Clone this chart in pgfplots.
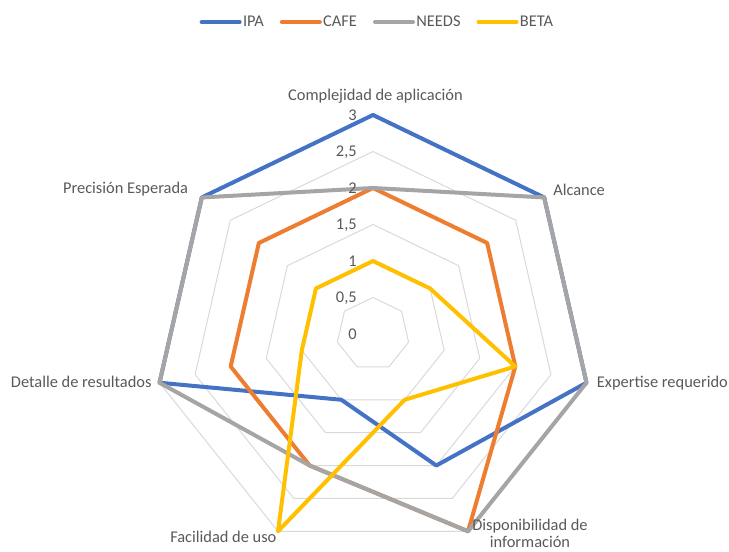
\documentclass[border=0pt]{standalone}
\usepackage{pgfplots}
\usepackage{pgfplotstable}
\pgfplotsset{compat=1.18}
\usepackage{fontspec}
\setmainfont{Carlito}
\definecolor{cIPA}{HTML}{4472C4}
\definecolor{cCAFE}{HTML}{ED7D31}
\definecolor{cNEEDS}{HTML}{A5A5A5}
\definecolor{cBETA}{HTML}{FFC000}
\definecolor{cgrid}{HTML}{D9D9D9}
\definecolor{ctxt}{HTML}{595959}
\tikzset{ticklab/.style={anchor=east, inner sep=0pt, text depth=0pt, text=ctxt}}

% k = axis index (0 = Complejidad, clockwise), r = value
\pgfplotstableread{
k r
0 3
1 3
2 3
3 2
4 1
5 3
6 3
}\tIPA
\pgfplotstableread{
k r
0 2
1 2
2 2
3 3
4 2
5 2
6 2
}\tCAFE
\pgfplotstableread{
k r
0 2
1 3
2 3
3 3
4 2
5 3
6 3
}\tNEEDS
\pgfplotstableread{
k r
0 1
1 1
2 2
3 1
4 3
5 1
6 1
}\tBETA
\pgfplotstableread{
k r
0 1
1 1
2 1
3 1
4 1
5 1
6 1
}\tRING

\begin{document}
\begin{tikzpicture}[font=\fontsize{12.3}{14.8}\selectfont, text=ctxt]
\path[use as bounding box] (0,0) rectangle (546.75pt,414pt);
\begin{axis}[
  hide axis, clip=false,
  x=54.75pt, y=54.75pt,
  xmin=-3.2, xmax=3.2, ymin=-3.2, ymax=3.2,
  at={(279.75pt,163.5pt)}, anchor=center,
  legend columns=4,
  legend style={at={(0.5086,1.1678)}, anchor=center, draw=none, fill=none,
    font=\fontsize{12.3}{14.8}\selectfont, text=ctxt,
    nodes={inner sep=1pt},
    /tikz/every even column/.append style={column sep=11pt}},
  legend image code/.code={\draw[#1, line cap=round] (0pt,0pt) -- (28.5pt,0pt);},
  every axis plot/.append style={line width=3pt, line join=round, mark=none},
]
\pgfplotsinvokeforeach{0.5,1,1.5,2,2.5,3}{
  \addplot[forget plot, cgrid, line width=0.75pt, line join=miter] table[
    x expr={#1*\thisrow{r}*cos(90-360/7*\thisrow{k})},
    y expr={#1*\thisrow{r}*sin(90-360/7*\thisrow{k})}] {\tRING} -- cycle;
}
\addplot[cIPA] table[x expr={\thisrow{r}*cos(90-360/7*\thisrow{k})}, y expr={\thisrow{r}*sin(90-360/7*\thisrow{k})}] {\tIPA} -- cycle;
\addlegendentry{IPA}
\addplot[cCAFE] table[x expr={\thisrow{r}*cos(90-360/7*\thisrow{k})}, y expr={\thisrow{r}*sin(90-360/7*\thisrow{k})}] {\tCAFE} -- cycle;
\addlegendentry{CAFE}
\addplot[cNEEDS] table[x expr={\thisrow{r}*cos(90-360/7*\thisrow{k})}, y expr={\thisrow{r}*sin(90-360/7*\thisrow{k})}] {\tNEEDS} -- cycle;
\addlegendentry{NEEDS}
\addplot[cBETA] table[x expr={\thisrow{r}*cos(90-360/7*\thisrow{k})}, y expr={\thisrow{r}*sin(90-360/7*\thisrow{k})}] {\tBETA} -- cycle;
\addlegendentry{BETA}
\node[ticklab] at (axis cs:-0.22,0) {0};
\node[ticklab] at (axis cs:-0.22,0.5) {0,5};
\node[ticklab] at (axis cs:-0.22,1) {1};
\node[ticklab] at (axis cs:-0.22,1.5) {1,5};
\node[ticklab] at (axis cs:-0.22,2) {2};
\node[ticklab] at (axis cs:-0.22,2.5) {2,5};
\node[ticklab] at (axis cs:-0.22,3) {3};
\end{axis}
\begin{scope}[every node/.style={inner sep=0pt, text=ctxt}]
\node[anchor=base] at (281.6pt,338.25pt) {Complejidad de aplicación};
\node[anchor=base west] at (414.75pt,267pt) {Alcance};
\node[anchor=base west] at (447.5pt,123pt) {Expertise requerido};
\node[anchor=base] at (397.5pt,16pt) {Disponibilidad de};
\node[anchor=base, text depth=0pt] at (397.5pt,3pt) {información};
\node[anchor=base east] at (207.5pt,7.0pt) {Facilidad de uso};
\node[anchor=base east] at (113.8pt,123.2pt) {Detalle de resultados};
\node[anchor=base east] at (141.2pt,268.5pt) {Precisión Esperada};
\end{scope}
\end{tikzpicture}
\end{document}
